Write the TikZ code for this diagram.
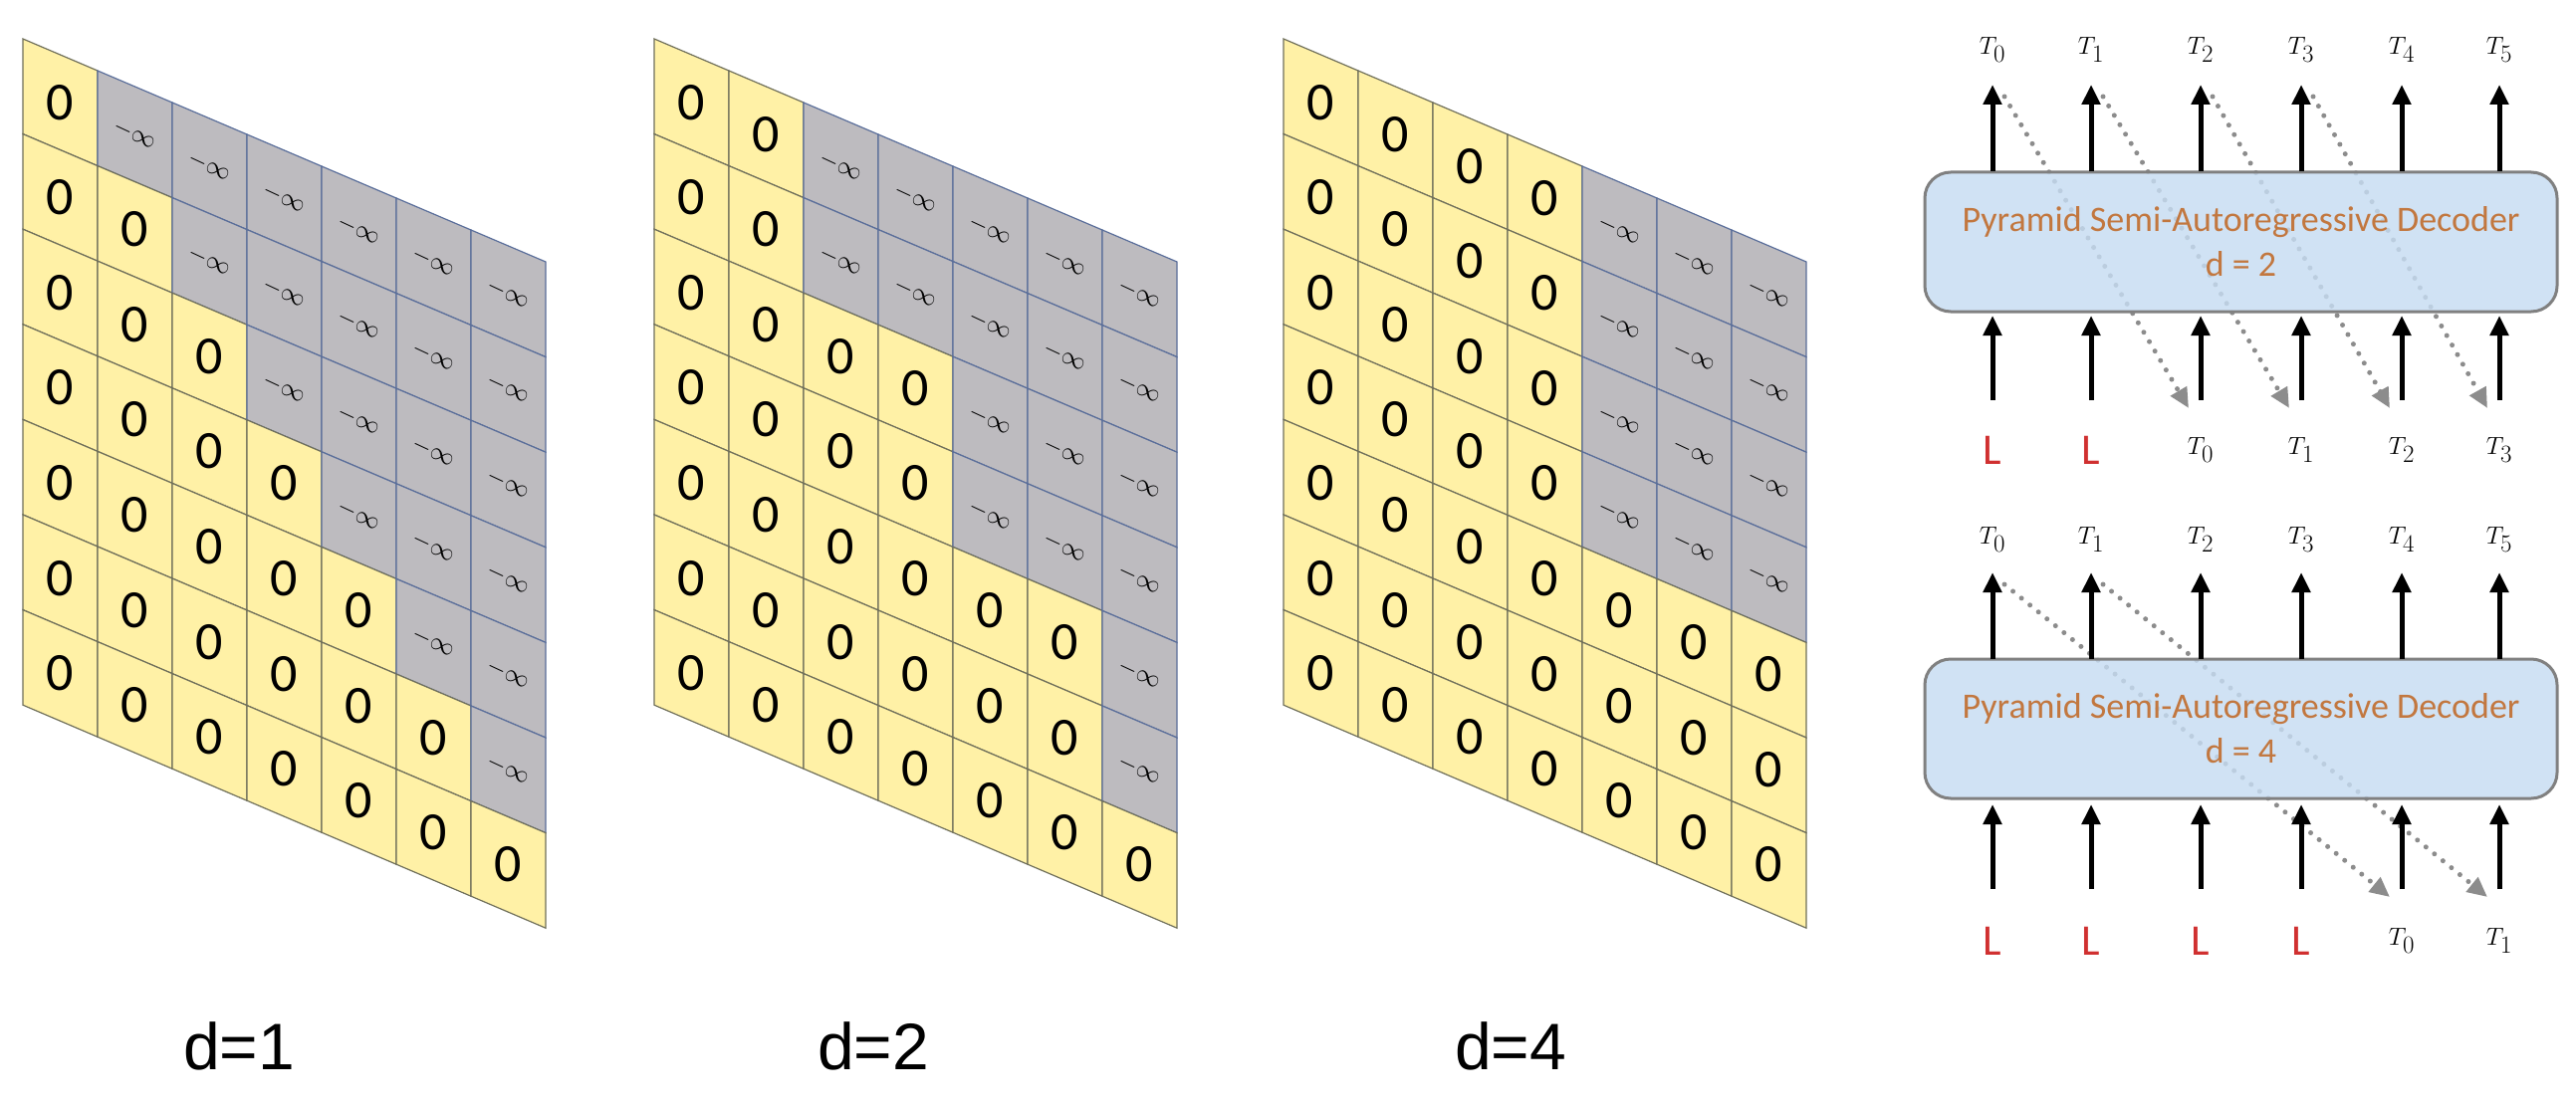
\documentclass[tikz,border=0pt]{standalone}
\usepackage{fontspec}
\setmainfont{Carlito}
\setsansfont{Liberation Sans}
\usetikzlibrary{arrows.meta}
\definecolor{cellY}{HTML}{FFF1A6}
\definecolor{cellG}{HTML}{BDBBBF}
\definecolor{lineY}{HTML}{6F6F5A}
\definecolor{lineG}{HTML}{5A6E9A}
\definecolor{boxF}{HTML}{C6DCF2}
\definecolor{boxD}{HTML}{808080}
\definecolor{txtB}{HTML}{C2773F}
\definecolor{redL}{HTML}{D03030}
\definecolor{dotC}{HTML}{8C8C8C}
\tikzset{
  ycell/.style={fill=cellY,draw=lineY,line width=1.2pt},
  gcell/.style={fill=cellG,draw=lineG,line width=1.2pt},
  zero/.style={font=\fontsize{54}{60}\selectfont},
  minf/.style={font=\fontsize{46}{50}\selectfont,rotate=-25},
  dlab/.style={font=\sffamily\fontsize{66}{70}\selectfont},
  decoder/.style={rounded corners=26pt,fill=boxF,fill opacity=0.82,text opacity=1,draw=boxD,line width=3pt,minimum width=635pt,minimum height=140pt,align=center,text=txtB,font=\fontsize{36}{45}\selectfont},
  tlab/.style={font=\fontsize{44}{48}\selectfont},
  llab/.style={font=\fontsize{44}{48}\selectfont,text=redL},
  solidar/.style={line width=5pt,-{Triangle[length=20pt,width=18pt]}},
  dotar/.style={line width=5pt,draw=dotC,line cap=round,dash pattern=on 0pt off 11pt,-{Triangle[length=20pt,width=18pt,color=dotC]}}
}
\begin{document}
\begin{tikzpicture}[x=1pt,y=-1pt]
\useasboundingbox (0,0) rectangle (2587,1118);
% grids
\foreach \gx/\d in {23/1,657/2,1289/4}{
  \foreach \c in {0,...,6}{
    \foreach \r in {0,...,6}{
      \pgfmathtruncatemacro\lim{\d*(floor(\r/\d)+1)}
      \pgfmathsetmacro\px{\gx+75*\c}
      \pgfmathsetmacro\py{39+32*\c+95.6*\r}
      \ifnum\c<\lim
        \draw[ycell] (\px,\py) -- ++(75,32) -- ++(0,95.6) -- ++(-75,-32) -- cycle;
        \node[zero] (z-\gx-\c-\r) at (\px+37.5,\py+63.8) {0};
      \else
        \draw[gcell] (\px,\py) -- ++(75,32) -- ++(0,95.6) -- ++(-75,-32) -- cycle;
        \node[minf] (m-\gx-\c-\r) at (\px+37.5,\py+63.8) {$-\infty$};
      \fi
    }
  }
}
\node[dlab] (d1) at (240,1051) {d=1};
\node[dlab] (d2) at (877,1051) {d=2};
\node[dlab] (d4) at (1517,1051) {d=4};
% right panel coordinates
\foreach \i/\x in {0/2001,1/2100,2/2210,3/2311,4/2412,5/2510}{
  \coordinate (ua\i) at (\x,172);
  \coordinate (ub\i) at (\x,85);
  \coordinate (la\i) at (\x,402);
  \coordinate (lb\i) at (\x,317);
  \coordinate (uc\i) at (\x,662);
  \coordinate (ud\i) at (\x,575);
  \coordinate (lc\i) at (\x,893);
  \coordinate (ld\i) at (\x,808);
  \node[tlab] (tt\i) at (\x,50) {$T_{\i}$};
  \node[tlab] (ts\i) at (\x,542) {$T_{\i}$};
}
% dotted arrows (below boxes)
\foreach \i in {0,1,2,3}{
  \pgfmathtruncatemacro\j{\i+2}
  \draw[dotar] ([xshift=12pt,yshift=-12pt]ub\i) -- ([xshift=-12pt,yshift=-8pt]la\j);
}
\foreach \i in {0,1}{
  \pgfmathtruncatemacro\j{\i+4}
  \draw[dotar] ([xshift=12pt,yshift=-12pt]ud\i) -- ([xshift=-12pt,yshift=-8pt]lc\j);
}
\node[decoder] (box1) at (2250.5,243) {Pyramid Semi-Autoregressive Decoder\\d = 2};
\node[decoder] (box2) at (2250.5,732) {Pyramid Semi-Autoregressive Decoder\\d = 4};
\foreach \i in {0,...,5}{
  \draw[solidar] (ua\i) -- (ub\i);
  \draw[solidar] (la\i) -- (lb\i);
  \draw[solidar] (uc\i) -- (ud\i);
  \draw[solidar] (lc\i) -- (ld\i);
}
% bottom labels
\node[llab] (b10) at (2001,452) {L};
\node[llab] (b11) at (2100,452) {L};
\node[tlab] (b12) at (2210,452) {$T_0$};
\node[tlab] (b13) at (2311,452) {$T_1$};
\node[tlab] (b14) at (2412,452) {$T_2$};
\node[tlab] (b15) at (2510,452) {$T_3$};
\node[llab] (b20) at (2001,945) {L};
\node[llab] (b21) at (2100,945) {L};
\node[llab] (b22) at (2210,945) {L};
\node[llab] (b23) at (2311,945) {L};
\node[tlab] (b24) at (2412,945) {$T_0$};
\node[tlab] (b25) at (2510,945) {$T_1$};
\end{tikzpicture}
\end{document}
